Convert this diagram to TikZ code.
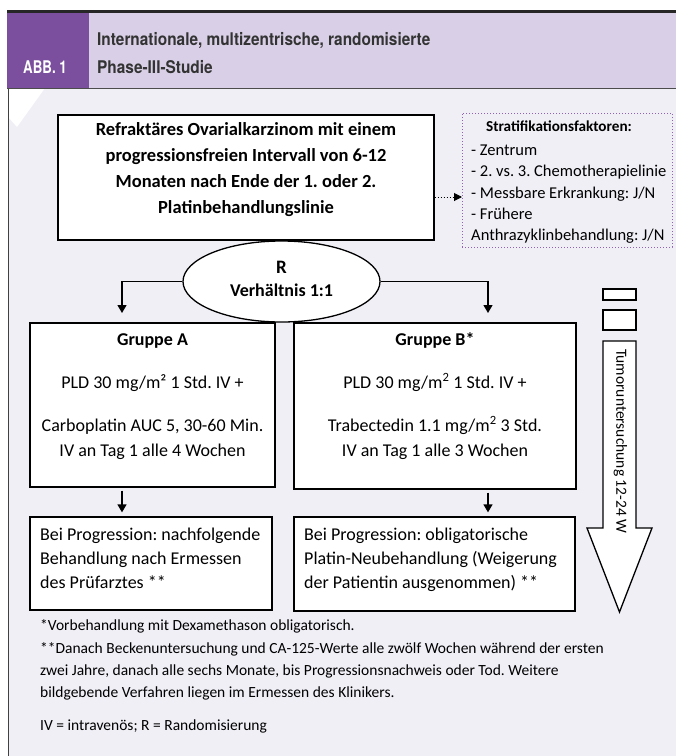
\documentclass[tikz,border=0pt]{standalone}
\usepackage{fontspec}
\setmainfont{Carlito}
\newfontfamily\headfont[FakeStretch=0.88]{TeX Gyre Heros}
\newfontfamily\abbfont[FakeStretch=0.76]{TeX Gyre Heros}
\usetikzlibrary{arrows.meta,shapes.geometric}

\definecolor{abbpurple}{HTML}{7B4F9E}
\definecolor{headlilac}{HTML}{D9D0E7}
\definecolor{panelgrey}{HTML}{F0EFF6}
\definecolor{headtext}{HTML}{333333}
\definecolor{stratline}{HTML}{8F62B8}

\tikzset{
  box/.style={draw, line width=1.3pt, fill=white, inner sep=0pt},
  txt/.style={inner sep=0pt, text height=0.64em, text depth=0pt, font=\fontsize{18}{21}\selectfont},
  boldtxt/.style={txt, font=\fontsize{18}{21}\selectfont\bfseries},
  strattxt/.style={txt, font=\fontsize{16.5}{19}\selectfont},
  notetxt/.style={txt, font=\fontsize{15.5}{18}\selectfont},
  arr/.style={line width=1.3pt, -{Triangle[length=8pt,width=9pt]}},
}

\begin{document}
\frenchspacing
\begin{tikzpicture}[x=1pt,y=-1pt]
\useasboundingbox (0,0) rectangle (676,756);
\fill[white] (0,0) rectangle (676,756);

% panel and header
\fill[panelgrey] (8,88) rectangle (676,756);
\fill[white] (9,88) -- (45,88) -- (17,127) -- (9,118) -- cycle;
\draw[line width=0.8pt, black!75] (8,88) -- (8,756);
\fill[headlilac] (7,13) rectangle (676,88);
\fill[abbpurple] (7,13) rectangle (89,88);
\draw[line width=3pt, black!85] (7,11.5) -- (676,11.5);
\draw[line width=0.8pt, black!70] (7,88) -- (676,88);

\node[anchor=base west, inner sep=0pt, white] (abb) at (23,73)
  {\abbfont\bfseries\fontsize{17.5}{20}\selectfont ABB. 1};
\node[anchor=base west, inner sep=0pt, headtext] (title1) at (97,45.5)
  {\headfont\bfseries\fontsize{17.5}{20}\selectfont Internationale, multizentrische, randomisierte};
\node[anchor=base west, inner sep=0pt, headtext] (title2) at (97,73)
  {\headfont\bfseries\fontsize{17.5}{20}\selectfont Phase-III-Studie};

% inclusion
\node[box, minimum width=376pt, minimum height=125pt] (main) at (246,177.5) {};
\node[boldtxt, font=\fontsize{18.5}{21}\selectfont\bfseries] (main1) at (246,132) {Refraktäres Ovarialkarzinom mit einem};
\node[boldtxt, font=\fontsize{18.5}{21}\selectfont\bfseries] (main2) at (246,158) {progressionsfreien Intervall von 6-12};
\node[boldtxt, font=\fontsize{18.5}{21}\selectfont\bfseries] (main3) at (246,184) {Monaten nach Ende der 1. oder 2.};
\node[boldtxt, font=\fontsize{18.5}{21}\selectfont\bfseries] (main4) at (246,210) {Platinbehandlungslinie};

% stratification
\node[draw=stratline, dotted, line width=1pt, minimum width=210pt, minimum height=134pt, inner sep=0pt] (strat) at (567,180) {};
\node[strattxt, anchor=west, font=\fontsize{15.2}{18}\selectfont\bfseries] (s0) at (486,128) {Stratifikationsfaktoren:};
\node[strattxt, anchor=west] (s1) at (471,152) {- Zentrum};
\node[strattxt, anchor=west] (s2) at (471,173) {- 2. vs. 3. Chemotherapielinie};
\node[strattxt, anchor=west] (s3) at (471,195) {- Messbare Erkrankung: J/N};
\node[strattxt, anchor=west] (s4) at (471,216) {- Frühere};
\node[strattxt, anchor=west] (s5) at (471,237) {Anthrazyklinbehandlung: J/N};
\coordinate (stratIn) at (462,197);
\draw[line width=1pt, dotted, -{Triangle[length=8pt,width=8pt]}] (main.east |- stratIn) -- (stratIn);

% randomisation
\node[draw, ellipse, fill=white, line width=1.3pt, minimum width=197pt, minimum height=81pt, inner sep=0pt] (R) at (281.5,281.5) {};
\node[boldtxt, font=\fontsize{19}{21}\selectfont\bfseries] (Rtop) at (281.5,270) {R};
\node[boldtxt] (Rbot) at (281.5,293) {Verhältnis 1:1};
\coordinate (aTop) at (122,313);
\coordinate (bTop) at (488,313);
\draw[arr] (R.west) -| (aTop);
\draw[arr] (R.east) -| (bTop);

% arms
\node[box, minimum width=245pt, minimum height=164pt] (grpA) at (152.5,405) {};
\node[boldtxt] (grpA0) at (152.5,342) {Gruppe A};
\node[txt] (grpA1) at (152.5,385) {PLD 30 mg/m² 1 Std. IV +};
\node[txt] (grpA2) at (152.5,428) {Carboplatin AUC 5, 30-60 Min.};
\node[txt] (grpA3) at (152.5,453) {IV an Tag 1 alle 4 Wochen};

\node[box, minimum width=282pt, minimum height=166pt] (grpB) at (435,406) {};
\node[boldtxt] (grpB0) at (435,342) {Gruppe B*};
\node[txt] (grpB1) at (435,385) {PLD 30 mg/m\textsuperscript{2} 1 Std. IV +};
\node[txt] (grpB2) at (435,428) {Trabectedin 1.1 mg/m\textsuperscript{2} 3 Std.};
\node[txt] (grpB3) at (435,453) {IV an Tag 1 alle 3 Wochen};

% progression
\node[box, minimum width=242pt, minimum height=93pt] (progA) at (151,563.5) {};
\node[txt, anchor=west] (progA1) at (40,537) {Bei Progression: nachfolgende};
\node[txt, anchor=west] (progA2) at (40,561) {Behandlung nach Ermessen};
\node[txt, anchor=west] (progA3) at (40,585) {des Prüfarztes **};

\node[box, minimum width=281pt, minimum height=94pt] (progB) at (434.5,564) {};
\node[txt, anchor=west] (progB1) at (304,537) {Bei Progression: obligatorische};
\node[txt, anchor=west] (progB2) at (304,561) {Platin-Neubehandlung (Weigerung};
\node[txt, anchor=west] (progB3) at (304,585) {der Patientin ausgenommen) **};

\draw[arr, shorten <=3pt, shorten >=4pt] (grpA.south -| aTop) -- (progA.north -| aTop);
\draw[arr, shorten <=3pt, shorten >=4pt] (grpB.south -| bTop) -- (progB.north -| bTop);

% tumour assessment
\draw[line width=1.3pt, fill=white] (603,289) rectangle (636,300);
\draw[line width=1.3pt, fill=white] (603,310) rectangle (636,330);
\draw[line width=1.3pt, fill=white] (603,341) -- (636,341) -- (636,528) -- (652,528)
  -- (619.5,612) -- (587,528) -- (603,528) -- cycle;
\node[txt, font=\fontsize{15.5}{18}\selectfont, rotate=-90, anchor=west] (tumor) at (619.5,349) {Tumoruntersuchung 12-24 W};

% notes
\node[notetxt, anchor=west] (n1) at (40,627) {*Vorbehandlung mit Dexamethason obligatorisch.};
\node[notetxt, anchor=west] (n2) at (40,650) {**Danach Beckenuntersuchung und CA-125-Werte alle zwölf Wochen während der ersten};
\node[notetxt, anchor=west] (n3) at (40,672) {zwei Jahre, danach alle sechs Monate, bis Progressionsnachweis oder Tod. Weitere};
\node[notetxt, anchor=west] (n4) at (40,694) {bildgebende Verfahren liegen im Ermessen des Klinikers.};
\node[notetxt, anchor=west] (n5) at (40,727) {IV = intravenös; R = Randomisierung};
\end{tikzpicture}
\end{document}
